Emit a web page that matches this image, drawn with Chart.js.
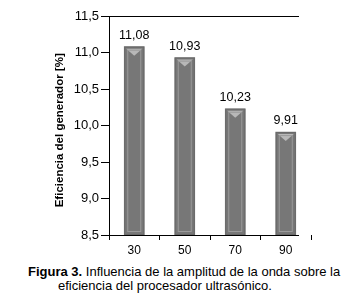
<!DOCTYPE html>
<html>
<head>
<meta charset="utf-8">
<script src="https://cdn.jsdelivr.net/npm/chart.js@4"></script>
<style>
  html, body { margin: 0; padding: 0; background: #fff; }
  #wrap { position: relative; width: 347px; height: 262px; }
  .caption {
    width: 347px;
    font-family: "Liberation Sans", Arial, sans-serif;
    font-size: 13px;
    line-height: 14px;
    color: #000;
    margin-top: 3px;
    white-space: nowrap;
  }
  .caption div.l1 { padding-left: 28px; }
  .caption div.l2 { padding-left: 58px; }
</style>
</head>
<body>
<div id="wrap"><canvas id="chart" width="347" height="262"></canvas></div>
<div class="caption">
  <div class="l1"><b>Figura 3.</b> Influencia de la amplitud de la onda sobre la</div>
  <div class="l2">eficiencia del procesador ultrasónico.</div>
</div>
<script>
    const categories = ["30", "50", "70", "90"];
    const efficiency = [11.08, 10.93, 10.23, 9.91];
    const yTicks = [8.5, 9.0, 9.5, 10.0, 10.5, 11.0, 11.5];

    const fmt = (v, d) => v.toFixed(d).replace(".", ",");

    const barFill = (context) => {
        const el = context.element;
        if (!el || !Number.isFinite(el.x) || !Number.isFinite(el.width)) {
            return "#777";
        }
        const half = el.width / 2;
        const g = context.chart.ctx.createLinearGradient(el.x - half, 0, el.x + half, 0);
        g.addColorStop(0.0, "#7a7a7a");
        g.addColorStop(0.12, "#a2a2a2");
        g.addColorStop(0.22, "#5a5a5a");
        g.addColorStop(0.38, "#8e8e8e");
        g.addColorStop(0.5, "#707070");
        g.addColorStop(0.62, "#8e8e8e");
        g.addColorStop(0.78, "#5a5a5a");
        g.addColorStop(0.88, "#a2a2a2");
        g.addColorStop(1.0, "#7a7a7a");
        return g;
    };

    const AXIS_END = 299;

    const decorations = {
        id: "decorations",
        afterDatasetsDraw(chart) {
            const { ctx, chartArea } = chart;
            const meta = chart.getDatasetMeta(0);
            ctx.save();
            // top border and bottom axis stop short of the last category
            ctx.strokeStyle = "#000";
            ctx.lineWidth = 1;
            ctx.beginPath();
            ctx.moveTo(chartArea.left, chartArea.top + 0.5);
            ctx.lineTo(AXIS_END, chartArea.top + 0.5);
            ctx.moveTo(chartArea.left, chartArea.bottom + 0.5);
            ctx.lineTo(AXIS_END, chartArea.bottom + 0.5);
            ctx.stroke();

            // bevel on each bar
            meta.data.forEach((bar) => {
                const w = bar.width;
                const x0 = bar.x - w / 2;
                ctx.fillStyle = "#b8b8b8";
                ctx.beginPath();
                ctx.moveTo(x0 + 2, bar.y + 2);
                ctx.lineTo(x0 + w - 2, bar.y + 2);
                ctx.lineTo(bar.x, bar.y + 9);
                ctx.closePath();
                ctx.fill();
                ctx.lineWidth = 1;
                ctx.strokeStyle = "#6a6a6a";
                ctx.strokeRect(x0 + 0.5, bar.y + 0.5, w - 1, chartArea.bottom - bar.y - 1);
                ctx.strokeStyle = "#9a9a9a";
                ctx.strokeRect(x0 + 3.5, bar.y + 3.5, w - 7, chartArea.bottom - bar.y - 7);
            });

            // value labels
            ctx.fillStyle = "#000";
            ctx.font = "12.5px 'Liberation Sans', Arial, sans-serif";
            ctx.textAlign = "center";
            ctx.textBaseline = "bottom";
            meta.data.forEach((bar, i) => {
                ctx.fillText(fmt(efficiency[i], 2), bar.x, bar.y - 5);
            });
            ctx.restore();
        }
    };

    new Chart(document.getElementById("chart"), {
        type: "bar",
        data: {
            labels: categories,
            datasets: [
                {
                    data: efficiency,
                    backgroundColor: barFill,
                    borderWidth: 0,
                    barThickness: 20
                }
            ]
        },
        options: {
            responsive: false,
            animation: false,
            layout: {
                padding: { left: 49, right: 36, top: 16, bottom: 0 }
            },
            plugins: {
                legend: { display: false },
                tooltip: { enabled: false }
            },
            scales: {
                x: {
                    offset: true,
                    border: { display: false },
                    grid: {
                        offset: true,
                        drawOnChartArea: false,
                        tickLength: 5,
                        color: (c) => (c.index === categories.length ? "transparent" : "#000")
                    },
                    ticks: {
                        color: "#000",
                        padding: 3,
                        font: { family: "'Liberation Sans', Arial, sans-serif", size: 12 }
                    },
                    afterFit: (scale) => { scale.height = 27; }
                },
                y: {
                    min: yTicks[0],
                    max: yTicks[yTicks.length - 1],
                    border: { display: true, color: "#000" },
                    grid: {
                        drawOnChartArea: false,
                        tickLength: 8,
                        color: "#000"
                    },
                    afterBuildTicks: (scale) => {
                        scale.ticks = yTicks.map((v) => ({ value: v }));
                    },
                    ticks: {
                        color: "#000",
                        padding: 2,
                        font: { family: "'Liberation Sans', Arial, sans-serif", size: 13 },
                        callback: (v) => fmt(v, 1)
                    },
                    title: {
                        display: true,
                        text: "Eficiencia del generador [%]   ",
                        color: "#000",
                        padding: { top: 4, bottom: 4 },
                        font: { family: "'Liberation Sans Narrow', 'Arial Narrow', 'Liberation Sans', sans-serif", size: 11.5, weight: "bold" }
                    },
                    afterFit: (scale) => { scale.width = 60; }
                }
            }
        },
        plugins: [decorations]
    });
</script>
</body>
</html>
